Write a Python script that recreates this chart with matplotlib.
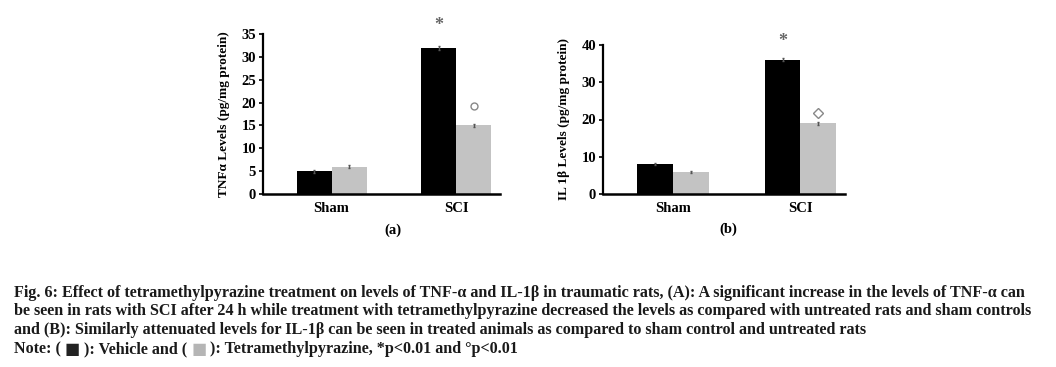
import matplotlib
matplotlib.use("Agg")
import matplotlib.pyplot as plt
import numpy as np

groups = ["Sham", "SCI"]
tnf_vehicle = [5.0, 32.0]
tnf_tmp = [6.0, 15.0]
tnf_err_vehicle = [0.3, 0.4]
tnf_err_tmp = [0.3, 0.3]
il_vehicle = [8.0, 36.0]
il_tmp = [6.0, 19.0]
il_err_vehicle = [0.3, 0.4]
il_err_tmp = [0.3, 0.4]

W, H = 1056, 367
fig = plt.figure(figsize=(W / 100, H / 100), dpi=100)
SERIF = ["Liberation Serif", "DejaVu Serif"]
plt.rcParams["font.family"] = SERIF
plt.rcParams["font.weight"] = "bold"

BLACK = "#000000"
GREY = "#c3c3c3"


def ax_rect(x0, x1, ytop, ybot):
    return [x0 / W, (H - ybot) / H, (x1 - x0) / W, (ybot - ytop) / H]


def panel(rect, veh, tmp, ev, et, ymax, step, ylabel, lpad, tag, tagxy, star_y, circ_y, circ_marker):
    ax = fig.add_axes(rect)
    x = np.arange(len(groups))
    w = 0.28
    ax.bar(x - w / 2, veh, w, color=BLACK, yerr=ev, error_kw=dict(ecolor="#555555", elinewidth=1, capsize=1))
    ax.bar(x + w / 2, tmp, w, color=GREY, yerr=et, error_kw=dict(ecolor="#555555", elinewidth=1, capsize=1))
    ax.set_ylim(0, ymax)
    ax.set_xlim(-0.55, 1.35)
    ax.set_yticks(np.arange(0, ymax + 0.1, step))
    ax.set_xticks(x)
    ax.set_xticklabels(groups, fontsize=10.5, fontweight="bold")
    ax.tick_params(axis="x", length=0, pad=6)
    ax.tick_params(axis="y", length=3, width=1.2, labelsize=10.5, pad=2)
    for lab in ax.get_yticklabels():
        lab.set_fontweight("bold")
    for s in ["top", "right"]:
        ax.spines[s].set_visible(False)
    ax.spines["left"].set_linewidth(1.6)
    ax.spines["bottom"].set_linewidth(1.8)
    ax.set_ylabel(ylabel, fontsize=9.5, fontweight="bold", labelpad=lpad)
    ax.text(1 - w / 2, star_y, "*", ha="center", va="center", fontsize=13, color="#666666", clip_on=False)
    ax.plot([1 + w / 2], [circ_y], marker=circ_marker, mfc="white", mec="#888888", ms=5, mew=1, clip_on=False)
    fig.text(tagxy[0] / W, 1 - tagxy[1] / H, tag, ha="center", va="center", fontsize=10.5, fontweight="bold")
    return ax


panel(ax_rect(263, 500, 34, 194), tnf_vehicle, tnf_tmp, tnf_err_vehicle, tnf_err_tmp,
      35, 5, "TNFα Levels (pg/mg protein)", 8, "(a)", (393, 230), 36.8, 19.2, "o")
panel(ax_rect(603, 845, 45, 194), il_vehicle, il_tmp, il_err_vehicle, il_err_tmp,
      40, 10, "IL 1β Levels (pg/mg protein)", 8, "(b)", (728, 229), 41.0, 21.7, "D")

cap_lines = [
    "Fig. 6: Effect of tetramethylpyrazine treatment on levels of TNF-α and IL-1β in traumatic rats, (A): A significant increase in the levels of TNF-α can",
    "be seen in rats with SCI after 24 h while treatment with tetramethylpyrazine decreased the levels as compared with untreated rats and sham controls",
    "and (B): Similarly attenuated levels for IL-1β can be seen in treated animals as compared to sham control and untreated rats",
]
ys = [293, 311, 330]
FS = 11.6
for t, yy in zip(cap_lines, ys):
    fig.text(14 / W, 1 - yy / H, t, ha="left", va="center", fontsize=FS, fontweight="bold", color="#1a1a1a")

renderer = fig.canvas.get_renderer()
parts = [("Note: ( ", "#1a1a1a"), ("■", "#222222"), (" ): Vehicle and ( ", "#1a1a1a"), ("■", "#b5b5b5"),
         (" ): Tetramethylpyrazine, *p<0.01 and °p<0.01", "#1a1a1a")]
xpix = 14
for t, c in parts:
    tt = fig.text(xpix / W, 1 - 349 / H, t, ha="left", va="center", fontsize=FS, fontweight="bold",
                  color=c, family=SERIF if t != "■" else ["DejaVu Sans"])
    bb = tt.get_window_extent(renderer)
    xpix += bb.width

fig.savefig("out.png", dpi=100)
